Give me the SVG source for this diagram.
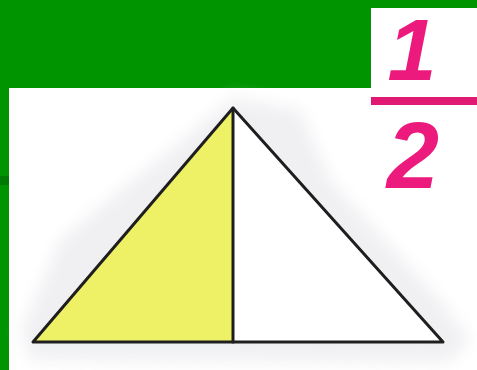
<svg xmlns="http://www.w3.org/2000/svg" width="477" height="370" viewBox="0 0 477 370">
  <defs>
    <style>
      .num { font-family: "Liberation Sans", Arial, sans-serif; font-weight: bold; font-style: italic; font-size: 88px; fill: #ec1a7c; text-anchor: middle; }
      .big { font-size: 94px; }
      .edge { stroke: #1e1e1e; stroke-width: 3; fill: none; stroke-linejoin: round; stroke-linecap: round; }
    </style>
    <filter id="blur" x="-20%" y="-20%" width="140%" height="140%">
      <feGaussianBlur stdDeviation="8"/>
    </filter>
  </defs>
  <rect x="0" y="0" width="477" height="370" fill="#009400"/>
  <rect x="0" y="176" width="9" height="9" fill="#007a00"/>
  <g id="picture">
    <rect x="9" y="88" width="468" height="282" fill="#ffffff"/>
    <polygon points="233,98 170,150 60,240 22,330 30,360 450,362 470,340 440,300 330,180 300,110" fill="#f0f0f3" filter="url(#blur)"/>
  </g>
  <g id="fraction">
    <rect x="371" y="8" width="106" height="80" fill="#ffffff"/>
    <text class="num" x="412" y="80">1</text>
    <rect x="371" y="97" width="106" height="8" fill="#e01a72"/>
    <text class="num big" x="413" y="188">2</text>
  </g>
  <g id="triangle">
    <polygon points="233,108 33,342 233,342" fill="#eef066"/>
    <polygon points="233,108 443,342 233,342" fill="#ffffff"/>
    <polygon class="edge" points="233,108 33,342 443,342"/>
    <line class="edge" x1="233" y1="108" x2="233" y2="342"/>
  </g>
</svg>
